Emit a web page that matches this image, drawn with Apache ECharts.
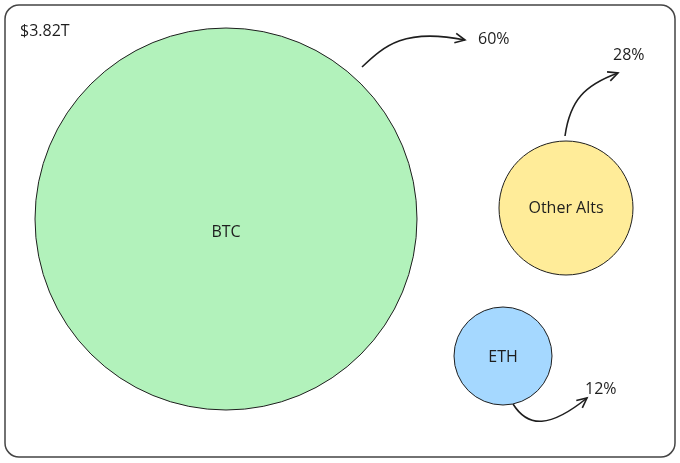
<!DOCTYPE html>
<html><head><meta charset="utf-8">
<script src="https://cdn.jsdelivr.net/npm/echarts@6/dist/echarts.min.js"></script>
<style>html,body{margin:0;padding:0;background:#fff}#c{width:680px;height:463px}</style>
</head><body><div id="c"></div>
<script>
const categories = ['BTC', 'Other Alts', 'ETH'];
const shares = [60, 28, 12];
const totalLabel = '$3.82T';

const FONT = '"Open Sans",sans-serif';
// layout (pixel-space positions and diameters of the bubbles)
const layout = {
  'BTC': {x: 226, y: 219, d: 382, color: '#b2f2bb', labelOffset: [0, 13]},
  'Other Alts': {x: 566, y: 208, d: 134, color: '#ffec99', labelOffset: [0, 0]},
  'ETH': {x: 503, y: 356, d: 98, color: '#a5d8ff', labelOffset: [0, 1]}
};

function arrowHead(x, y, dx, dy) {
  const len = Math.hypot(dx, dy); const ux = dx / len, uy = dy / len;
  const L = 11, a = Math.PI / 7;
  const p = ang => [x - L * (ux * Math.cos(ang) - uy * Math.sin(ang)), y - L * (uy * Math.cos(ang) + ux * Math.sin(ang))];
  return {type: 'polyline', shape: {points: [p(a), [x, y], p(-a)]}, style: {stroke: '#1e1e1e', lineWidth: 1.6, fill: null}};
}
const arrowStyle = {stroke: '#1e1e1e', lineWidth: 1.6, fill: null};
const txt = '16px ' + FONT;
const graphics = [
  {type: 'rect', shape: {x: 5, y: 5, width: 670, height: 452, r: 14}, style: {stroke: '#444', lineWidth: 1.5, fill: null}},
  {type: 'text', left: 20, top: 23, style: {text: totalLabel, font: txt, fill: '#1e1e1e'}},
  {type: 'bezierCurve', shape: {x1: 362, y1: 67, cpx1: 385, cpy1: 45, cpx2: 405, cpy2: 28, x2: 465, y2: 40}, style: arrowStyle},
  arrowHead(465, 40, 60, 12),
  {type: 'text', left: 478, top: 31, style: {text: shares[0] + '%', font: txt, fill: '#1e1e1e'}},
  {type: 'bezierCurve', shape: {x1: 565, y1: 136, cpx1: 570, cpy1: 100, cpx2: 585, cpy2: 85, x2: 618, y2: 73}, style: arrowStyle},
  arrowHead(618, 73, 33, -12),
  {type: 'text', left: 613, top: 47, style: {text: shares[1] + '%', font: txt, fill: '#1e1e1e'}},
  {type: 'bezierCurve', shape: {x1: 513, y1: 404, cpx1: 528, cpy1: 428, cpx2: 550, cpy2: 428, x2: 587, y2: 398}, style: arrowStyle},
  arrowHead(587, 398, 37, -30),
  {type: 'text', left: 585, top: 381, style: {text: shares[2] + '%', font: txt, fill: '#1e1e1e'}}
];

const chart = echarts.init(document.getElementById('c'), null, {renderer: 'canvas'});
chart.setOption({
  animation: false,
  grid: {left: 0, right: 0, top: 0, bottom: 0},
  xAxis: {type: 'value', min: 0, max: 680, show: false},
  yAxis: {type: 'value', min: 0, max: 463, inverse: true, show: false},
  series: [{
    type: 'scatter',
    data: categories.map((c, i) => ({
      name: c, value: [layout[c].x, layout[c].y, shares[i]],
      symbolSize: layout[c].d,
      itemStyle: {color: layout[c].color, borderColor: '#1e1e1e', borderWidth: 1, opacity: 1},
      label: {offset: layout[c].labelOffset}
    })),
    label: {show: true, position: 'inside', formatter: p => p.name, color: '#1e1e1e', fontSize: 16, fontFamily: FONT},
    emphasis: {disabled: true}
  }],
  graphic: graphics
});
</script></body></html>
